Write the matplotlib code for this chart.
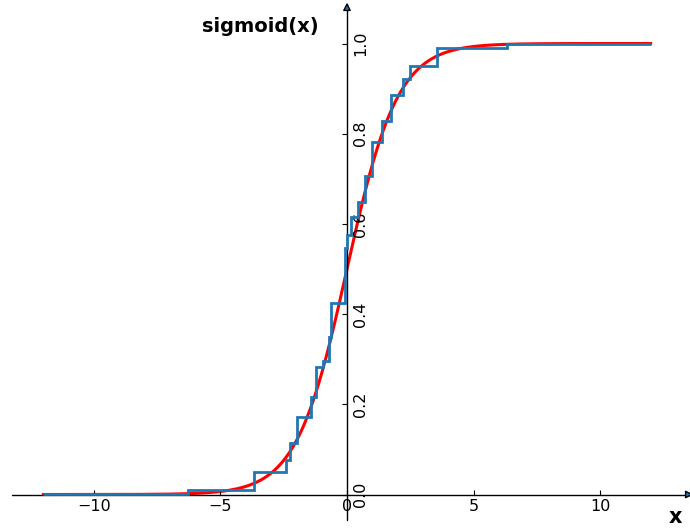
import matplotlib
matplotlib.use("Agg")
import matplotlib.pyplot as plt
import numpy as np
from mpl_toolkits.axisartist.axislines import AxesZero

# ---- data ----
curve_x_range = [-12, 12]
step_edges = [-12, -6.28, -3.68, -2.41, -2.25, -1.98, -1.42, -1.23, -0.95, -0.71,
              -0.63, -0.08, 0.01, 0.15, 0.45, 0.71, 0.99, 1.40, 1.74, 2.20, 2.49,
              3.55, 6.34, 12]
step_levels = [0.0005, 0.009, 0.049, 0.076, 0.114, 0.172, 0.217, 0.283, 0.296,
               0.349, 0.425, 0.546, 0.575, 0.615, 0.649, 0.706, 0.782, 0.829,
               0.885, 0.921, 0.951, 0.991, 0.999]
x_ticks = [-10, -5, 0, 5, 10]
y_ticks = [0.0, 0.2, 0.4, 0.6, 0.8, 1.0]

plt.rcParams["xtick.labelsize"] = 11.5
plt.rcParams["ytick.labelsize"] = 11.5

fig = plt.figure(figsize=(6.9, 5.29), dpi=100)
W, H = 690, 529
left_px, right_px, top_px, bot_px = 12, 682, 14, 520
ax = fig.add_axes([left_px / W, 1 - bot_px / H, (right_px - left_px) / W, (bot_px - top_px) / H],
                  axes_class=AxesZero)

for d in ["xzero", "yzero"]:
    ax.axis[d].set_visible(True)
    ax.axis[d].set_axisline_style("-|>", facecolor="#1f77b4")
for d in ["left", "right", "bottom", "top"]:
    ax.axis[d].set_visible(False)
ax.axis["yzero"].set_axis_direction("right")
ytl = ax.axis["yzero"].major_ticklabels
ytl.set_rotation(0)
ytl.set_ha("center")
ytl.set_va("top")
ytl.set_pad(ytl.get_pad() - 8)

xs = np.linspace(curve_x_range[0], curve_x_range[1], 600)
ax.plot(xs, 1 / (1 + np.exp(-xs)), color="red", lw=2.2, zorder=2)
ax.stairs(step_levels, step_edges, color="#1f77b4", lw=2.0, baseline=None, zorder=3)

ax.set_xlim((left_px - 347) / 25.3, (right_px - 347) / 25.3)
ax.set_ylim((494.5 - bot_px) / 451, (494.5 - top_px) / 451)
ax.set_xticks(x_ticks)
ax.set_yticks(y_ticks)

fig.text(260 / W, 1 - 27 / H, "sigmoid(x)", fontsize=14, fontweight="bold",
         ha="center", va="center")
fig.text(675 / W, 1 - 517 / H, "x", fontsize=15, fontweight="bold", ha="center", va="center")

fig.savefig("out.png", dpi=100)
